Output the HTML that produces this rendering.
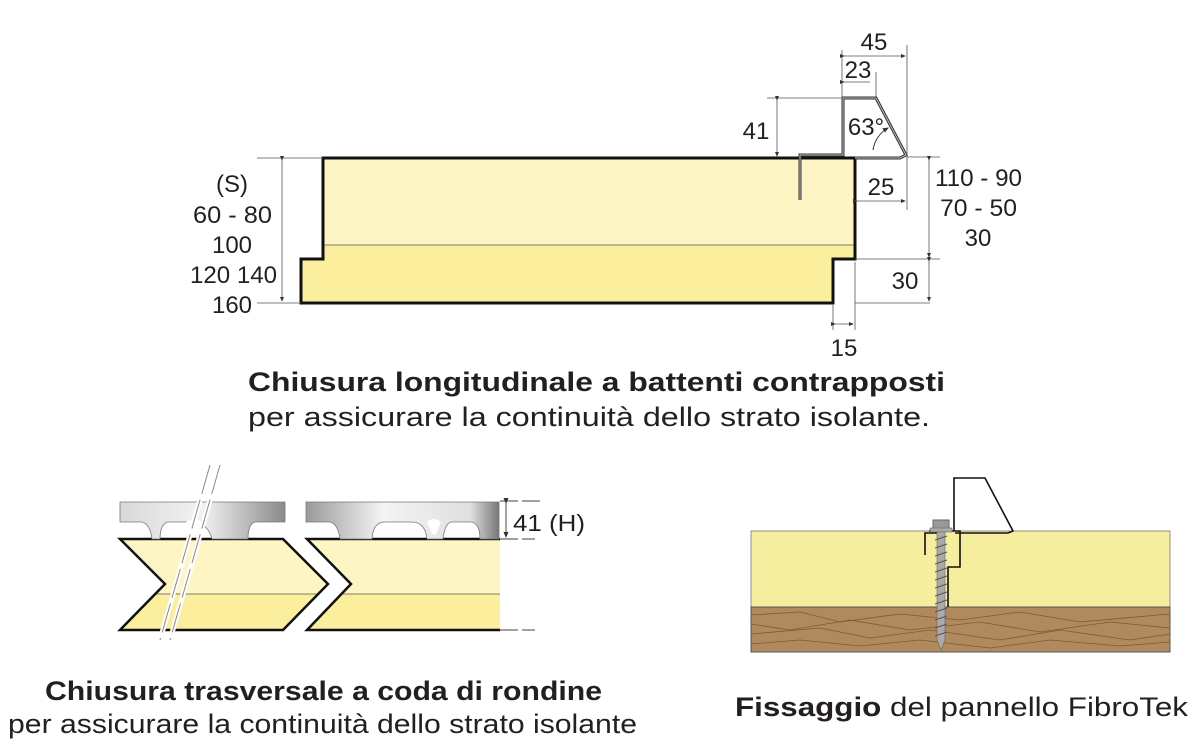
<!DOCTYPE html>
<html><head><meta charset="utf-8"><style>
html,body{margin:0;padding:0;background:#fff}
svg{display:block}
text{font-family:"Liberation Sans",Arial,sans-serif;fill:#231f20}
</style></head><body>
<svg width="1200" height="748" viewBox="0 0 1200 748">
<defs>
<linearGradient id="met" x1="0" y1="0" x2="1" y2="0">
<stop offset="0" stop-color="#d9d9d9"/><stop offset="0.5" stop-color="#f2f2f2"/><stop offset="1" stop-color="#8a8a8a"/>
</linearGradient>
<linearGradient id="met2" x1="0" y1="0" x2="1" y2="0">
<stop offset="0" stop-color="#9a9a9a"/><stop offset="0.4" stop-color="#f4f4f4"/><stop offset="0.85" stop-color="#e0e0e0"/><stop offset="1" stop-color="#777"/>
</linearGradient>
<marker id="ar" markerWidth="6" markerHeight="6" refX="5" refY="3" orient="auto"><path d="M0,0.5 L6,3 L0,5.5z" fill="#333"/></marker>
</defs>

<!-- TOP DIAGRAM -->
<path d="M323,158 H855 V259 H833 V303 H301 V259 H323 Z" fill="#fdf6c4"/>
<path d="M301,259 H323 V245 H855 V259 H833 V303 H301 Z" fill="#fbee9c"/>
<line x1="323" y1="245" x2="855" y2="245" stroke="#555" stroke-width="0.8"/>
<path d="M323,158 H855 V259 H833 V303 H301 V259 H323 Z" fill="none" stroke="#111" stroke-width="3"/>
<path d="M800,200 V155 H843 V98 H876 L906,155 L900,158 H855" fill="none" stroke="#333" stroke-width="3"/>
<path d="M800,200 V155 H843 V98 H876 L906,155 L900,158 H855" fill="none" stroke="#bbb" stroke-width="1"/>
<path d="M873,150 A30,30 0 0 1 888,128" fill="none" stroke="#333" stroke-width="1" marker-end="url(#ar)"/>
<g stroke="#555" stroke-width="0.8" fill="none">
<line x1="257" y1="158" x2="323" y2="158"/><line x1="257" y1="303" x2="301" y2="303"/>
<line x1="282" y1="160" x2="282" y2="301" marker-start="url(#ar)" marker-end="url(#ar)"/>
<line x1="767" y1="98" x2="843" y2="98"/>
<line x1="777" y1="100" x2="777" y2="156" marker-start="url(#ar)" marker-end="url(#ar)"/>
<line x1="842" y1="50" x2="842" y2="98"/><line x1="907" y1="45" x2="907" y2="210"/>
<line x1="876" y1="72" x2="876" y2="98"/>
<line x1="844" y1="56" x2="905" y2="56" marker-start="url(#ar)" marker-end="url(#ar)"/>
<line x1="844" y1="82" x2="870" y2="82" marker-start="url(#ar)"/>
<line x1="857" y1="201" x2="905" y2="201" marker-start="url(#ar)" marker-end="url(#ar)"/>
<line x1="907" y1="157" x2="940" y2="157"/>
<line x1="855" y1="259" x2="940" y2="259"/><line x1="855" y1="303" x2="930" y2="303"/>
<line x1="929" y1="160" x2="929" y2="257" marker-start="url(#ar)" marker-end="url(#ar)"/>
<line x1="929" y1="261" x2="929" y2="301" marker-start="url(#ar)" marker-end="url(#ar)"/>
<line x1="833" y1="305" x2="833" y2="330"/><line x1="855" y1="262" x2="855" y2="330"/>
<line x1="835" y1="324" x2="853" y2="324" marker-start="url(#ar)" marker-end="url(#ar)"/>
</g>
<g font-size="24">
<text x="232" y="192" text-anchor="middle">(S)</text>
<text x="193" y="223" textLength="79" lengthAdjust="spacingAndGlyphs">60 - 80</text>
<text x="232" y="253" text-anchor="middle">100</text>
<text x="190" y="283" textLength="87" lengthAdjust="spacingAndGlyphs">120 140</text>
<text x="232" y="313" text-anchor="middle">160</text>
<text x="756" y="139" text-anchor="middle">41</text>
<text x="874" y="50" text-anchor="middle">45</text>
<text x="858" y="78" text-anchor="middle">23</text>
<text x="866" y="135" text-anchor="middle">63°</text>
<text x="881" y="195" text-anchor="middle">25</text>
<text x="935" y="186" textLength="87" lengthAdjust="spacingAndGlyphs">110 - 90</text>
<text x="940" y="216" textLength="77" lengthAdjust="spacingAndGlyphs">70 - 50</text>
<text x="978" y="246" text-anchor="middle">30</text>
<text x="905" y="289" text-anchor="middle">30</text>
<text x="844" y="356" text-anchor="middle">15</text>
</g>
<text x="248" y="391" font-size="27" font-weight="bold" textLength="697" lengthAdjust="spacingAndGlyphs">Chiusura longitudinale a battenti contrapposti</text>
<text x="248" y="426" font-size="27" textLength="682" lengthAdjust="spacingAndGlyphs">per assicurare la  continuità dello strato isolante.</text>

<!-- BOTTOM LEFT -->
<path d="M120,539 H283 L328,584 L283,630 H120 L165,584 Z" fill="#fdf6c4"/>
<path d="M120,630 L155,594 H318 L283,630 Z" fill="#fbee9c"/>
<path d="M307,539 H500 V630 H307 L351,584 Z" fill="#fdf6c4"/>
<path d="M307,630 L341,594 H500 V630 Z" fill="#fbee9c"/>
<line x1="155" y1="594" x2="318" y2="594" stroke="#555" stroke-width="0.8"/>
<line x1="341" y1="594" x2="500" y2="594" stroke="#555" stroke-width="0.8"/>
<path d="M120,539 H283 L328,584 L283,630 H120 L165,584 Z" fill="none" stroke="#111" stroke-width="2.5"/>
<path d="M500,539 H307 L351,584 L307,630 H500" fill="none" stroke="#111" stroke-width="2.5"/>
<path d="M120,502 H285 V522 H255 Q248,524 248,539 H212 Q208,524 195,522 H168 Q160,524 160,539 H152 Q150,524 142,522 H120 Z" fill="url(#met)" stroke="#777" stroke-width="0.8"/>
<path d="M188,528 Q196,522 204,528 L198,540 Q196,542 194,540 Z" fill="#fff" transform="translate(-2,-6)"/>
<path d="M306,502 H499 V539 H480 Q480,522 470,522 H452 Q445,522 443,539 H427 Q425,522 412,522 H385 Q373,522 372,539 H340 Q338,524 330,522 H306 Z" fill="url(#met2)" stroke="#777" stroke-width="0.8"/>
<path d="M427,522 Q434,516 441,522 L436,534 Q434,536 432,534 Z" fill="#fff"/>
<path d="M210,465 L160,640 M220,465 L170,640" stroke="#fff" stroke-width="5"/>
<path d="M210,465 L160,640 M220,465 L170,640" stroke="#888" stroke-width="1" stroke-dasharray="30,6"/>
<g stroke="#444" stroke-width="1">
<line x1="500" y1="501" x2="540" y2="501" stroke-dasharray="18,4"/>
<line x1="500" y1="539" x2="535" y2="539" stroke-dasharray="18,4"/>
<line x1="500" y1="630" x2="535" y2="630" stroke-dasharray="18,4"/>
<line x1="506" y1="503" x2="506" y2="537" marker-start="url(#ar)" marker-end="url(#ar)"/>
</g>
<text x="513" y="531" font-size="23" textLength="72" lengthAdjust="spacingAndGlyphs">41 (H)</text>
<text x="45" y="700" font-size="27" font-weight="bold" textLength="557" lengthAdjust="spacingAndGlyphs">Chiusura trasversale a coda di rondine</text>
<text x="8" y="733" font-size="27" textLength="629" lengthAdjust="spacingAndGlyphs">per assicurare la continuità dello strato isolante</text>

<!-- BOTTOM RIGHT -->
<rect x="751" y="531" width="419" height="76" fill="#f6ee9f" stroke="#777" stroke-width="0.8"/>
<rect x="751" y="607" width="419" height="45" fill="#b08a5c" stroke="#555" stroke-width="1"/>
<g stroke="#7a5a38" stroke-width="0.8" fill="none">
<path d="M751,615 L800,612 L840,622 L900,614 L960,620 L1020,612 L1080,622 L1170,614"/>
<path d="M751,624 L790,630 L850,620 L910,630 L980,622 L1040,632 L1110,622 L1170,628"/>
<path d="M751,634 L820,628 L870,638 L930,630 L1000,640 L1060,630 L1130,640 L1170,634"/>
<path d="M751,644 L800,640 L860,646 L920,640 L990,648 L1050,640 L1120,646 L1170,642"/>
</g>
<path d="M929,531 L960,531 V567 H948 V607" fill="none" stroke="#111" stroke-width="1.6"/>
<path d="M925,555 V533 H940" fill="none" stroke="#111" stroke-width="1.6"/>
<path d="M954,531 V478 H985 L1013,531 L1008,533 H955" fill="none" stroke="#111" stroke-width="1.6"/>
<rect x="933" y="520" width="16" height="11" fill="#999" stroke="#666"/>
<rect x="930" y="528" width="22" height="4" fill="#aaa" stroke="#666" stroke-width="0.6"/>
<path d="M937,532 H945 V640 L941,650 L937,640 Z" fill="#aaa" stroke="#666" stroke-width="0.6"/>
<g stroke="#555" stroke-width="1"><path d="M935,540 L947,536 M935,548 L947,544 M935,556 L947,552 M935,564 L947,560 M935,572 L947,568 M935,580 L947,576 M935,588 L947,584 M935,596 L947,592 M935,604 L947,600 M935,612 L947,608 M935,620 L947,616 M935,628 L947,624 M935,636 L947,632"/></g>
<text x="735" y="716" font-size="27" textLength="453" lengthAdjust="spacingAndGlyphs"><tspan font-weight="bold">Fissaggio</tspan> del pannello FibroTek</text>
</svg>
</body></html>
